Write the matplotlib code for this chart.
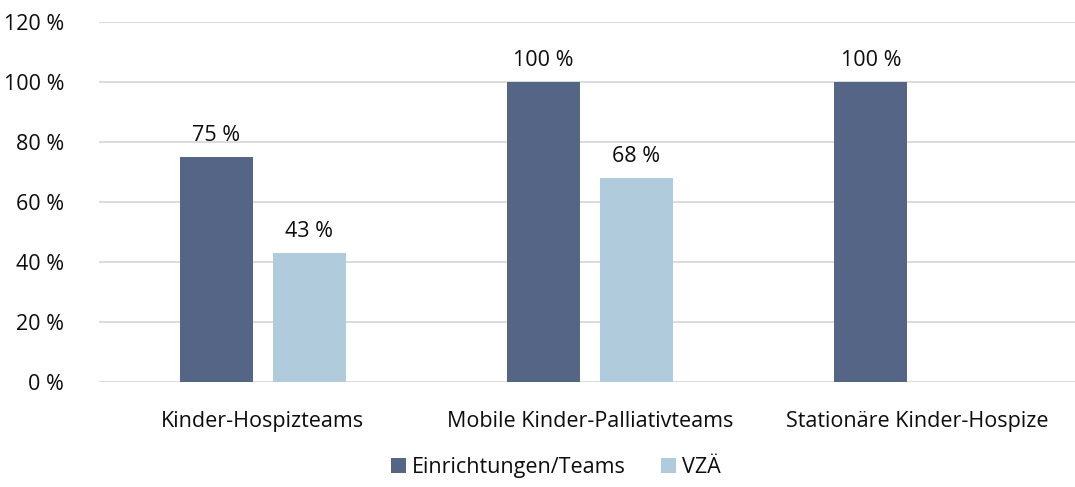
import matplotlib.pyplot as plt
import numpy as np

kategorien = ['Kinder-Hospizteams', 'Mobile Kinder-Palliativteams', 'Stationäre Kinder-Hospize']
einrichtungen = [75, 100, 100]
vzae = [43, 68, None]
serien = ['Einrichtungen/Teams', 'VZÄ']
yticks = [0, 20, 40, 60, 80, 100, 120]

dunkel = '#546586'
hell = '#b0cbdb'
txt = '#0d0d0d'

plt.rcParams['font.family'] = ['Open Sans', 'DejaVu Sans']

fig = plt.figure(figsize=(10.75, 4.87), dpi=100)
ax = fig.add_axes([0.0921, 0.2156, 0.9135, 0.7392])

x = np.arange(len(kategorien))
w = 0.223
gap = 0.061

b1 = ax.bar(x - (w + gap) / 2, einrichtungen, w, color=dunkel, label=serien[0], zorder=3)
x2 = [xi + (w + gap) / 2 for xi, v in zip(x, vzae) if v is not None]
v2 = [v for v in vzae if v is not None]
b2 = ax.bar(x2, v2, w, color=hell, label=serien[1], zorder=3)

for bars in (b1, b2):
    for r in bars:
        ax.text(r.get_x() + r.get_width() / 2, r.get_height() + 3.8, f'{r.get_height():.0f} %',
                ha='center', va='bottom', fontsize=15.5, color=txt)

ax.set_xlim(-0.5, 2.5)
ax.set_ylim(0, 120)
ax.set_yticks(yticks)
ax.set_yticklabels([f'{t} %' for t in yticks])
ax.set_xticks(x)
ax.set_xticklabels(kategorien)
ax.yaxis.grid(True, color='#d9d9d9', linewidth=1.3, zorder=0)
ax.tick_params(axis='y', length=0, pad=25, labelsize=15.5, labelcolor=txt)
ax.tick_params(axis='x', length=0, pad=21, labelsize=15.5, labelcolor=txt)
for s in ax.spines.values():
    s.set_visible(False)

fig.legend(loc='lower center', bbox_to_anchor=(0.517, -0.022), ncol=2, frameon=False,
           fontsize=15.5, handlelength=0.7, handleheight=0.7, handletextpad=0.3,
           columnspacing=1.6, labelcolor=txt)

fig.savefig('out.png', dpi=100)
